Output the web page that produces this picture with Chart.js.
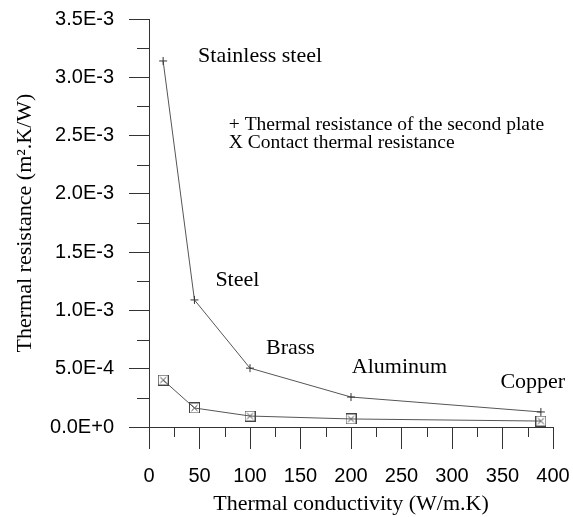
<!doctype html>
<html lang="en">
<head>
	<meta charset="utf-8">
	<title>Thermal resistance</title>
	<script src="https://cdn.jsdelivr.net/npm/chart.js"></script>
	<style>
		body { margin: 0; background: #fff; }
		.wrap { width: 573px; height: 517px; }
	</style>
</head>
<body>
	<div class="wrap"><canvas id="myChart" width="573" height="517"></canvas></div>

	<script>
		// values
		const materials = ["Stainless steel", "Steel", "Brass", "Aluminum", "Copper"];
		const conductivity = [14, 45, 100, 200, 388];
		const plateResistance = [3.14e-3, 1.09e-3, 5.05e-4, 2.57e-4, 1.29e-4];
		const contactResistance = [4.03e-4, 1.63e-4, 0.94e-4, 0.69e-4, 0.51e-4];
		const xTicks = [0, 50, 100, 150, 200, 250, 300, 350, 400];
		const yTicks = [0, 5e-4, 1e-3, 1.5e-3, 2e-3, 2.5e-3, 3e-3, 3.5e-3];
		const legendLines = ["+ Thermal resistance of the second plate", "X Contact thermal resistance"];

		// boxed X marker
		function boxX() {
			var c = document.createElement('canvas');
			c.width = 11; c.height = 11;
			var g = c.getContext('2d');
			g.strokeStyle = '#444';
			g.lineWidth = 1;
			g.strokeRect(0.5, 0.5, 10, 10);
			g.beginPath();
			g.moveTo(2.5, 2.5); g.lineTo(8.5, 8.5);
			g.moveTo(8.5, 2.5); g.lineTo(2.5, 8.5);
			g.stroke();
			return c;
		}

		const serif = "'Liberation Serif', 'Times New Roman', serif";
		const sans = "'Liberation Sans', Arial, sans-serif";

		// minor ticks + text placed in data units
		const extras = {
			id: 'extras',
			afterDraw(chart, args, opts) {
				const ctx = chart.ctx;
				const xs = chart.scales.x, ys = chart.scales.y;
				const area = chart.chartArea;
				ctx.save();
				ctx.strokeStyle = '#333';
				ctx.lineWidth = 1;
				ctx.beginPath();
				for (var v = 2.5e-4; v < 3.5e-3; v += 5e-4) {
					var py = Math.round(ys.getPixelForValue(v)) + 0.5;
					ctx.moveTo(area.left - 12, py); ctx.lineTo(area.left, py);
				}
				for (var u = 25; u < 400; u += 50) {
					var px = Math.round(xs.getPixelForValue(u)) + 0.5;
					ctx.moveTo(px, area.bottom); ctx.lineTo(px, area.bottom + 10);
				}
				ctx.stroke();

				ctx.fillStyle = '#000';
				ctx.textBaseline = 'middle';
				ctx.textAlign = 'center';
				ctx.font = '22px ' + serif;
				opts.names.forEach((p, i) => {
					ctx.fillText(materials[i], xs.getPixelForValue(p[0]), ys.getPixelForValue(p[1]));
				});
				ctx.textAlign = 'left';
				ctx.font = '19.5px ' + serif;
				opts.legend.forEach((p, i) => {
					ctx.fillText(legendLines[i], xs.getPixelForValue(p[0]), ys.getPixelForValue(p[1]));
				});
				ctx.restore();
			}
		};

		const ctx = document.getElementById('myChart').getContext('2d');
		const myChart = new Chart(ctx, {
			type: 'line',
			data: {
				datasets: [
					{
						label: legendLines[0],
						data: conductivity.map((x, i) => ({ x: x, y: plateResistance[i] })),
						borderColor: '#555',
						borderWidth: 1,
						pointStyle: 'cross',
						pointRadius: 4,
						pointBorderColor: '#333',
						pointBorderWidth: 1,
						tension: 0
					},
					{
						label: legendLines[1],
						data: conductivity.map((x, i) => ({ x: x, y: contactResistance[i] })),
						borderColor: '#555',
						borderWidth: 1,
						pointStyle: boxX(),
						tension: 0
					}
				]
			},
			options: {
				responsive: false,
				animation: false,
				layout: { padding: { top: 19, right: 20, left: 0, bottom: 0 } },
				plugins: {
					legend: { display: false },
					tooltip: { enabled: false },
					extras: {
						names: [[110, 3.18e-3], [87.5, 1.26e-3], [140, 6.8e-4], [248, 5.15e-4], [380, 3.86e-4]],
						legend: [[79, 2.59e-3], [79, 2.436e-3]]
					}
				},
				scales: {
					x: {
						type: 'linear',
						min: 0,
						max: 400,
						afterBuildTicks: (s) => { s.ticks = xTicks.map(v => ({ value: v })); },
						afterFit: (s) => { s.height = 90; s.paddingLeft = 0; s.paddingRight = 0; },
						grid: { drawOnChartArea: false, tickLength: 22, color: '#333' },
						border: { color: '#333' },
						ticks: { color: '#000', font: { family: sans, size: 20 }, padding: 15, maxRotation: 0 },
						title: {
							display: true,
							text: 'Thermal conductivity (W/m.K)',
							color: '#000',
							font: { family: serif, size: 22 },
							padding: { top: 0, bottom: 0 }
						}
					},
					y: {
						min: 0,
						max: 3.5e-3,
						afterBuildTicks: (s) => { s.ticks = yTicks.map(v => ({ value: v })); },
						afterFit: (s) => { s.width = 149; s.paddingTop = 0; s.paddingBottom = 0; },
						grid: { drawOnChartArea: false, tickLength: 20, color: '#333' },
						border: { color: '#333' },
						ticks: {
							color: '#000',
							font: { family: sans, size: 20 },
							padding: 15,
							callback: (v) => v.toExponential(1).toUpperCase()
						},
						title: {
							display: true,
							text: 'Thermal resistance (m\u00B2.K/W)',
							color: '#000',
							font: { family: serif, size: 22 },
							padding: { top: 12, bottom: 0 }
						}
					}
				}
			},
			plugins: [extras]
		});
	</script>
</body>
</html>
